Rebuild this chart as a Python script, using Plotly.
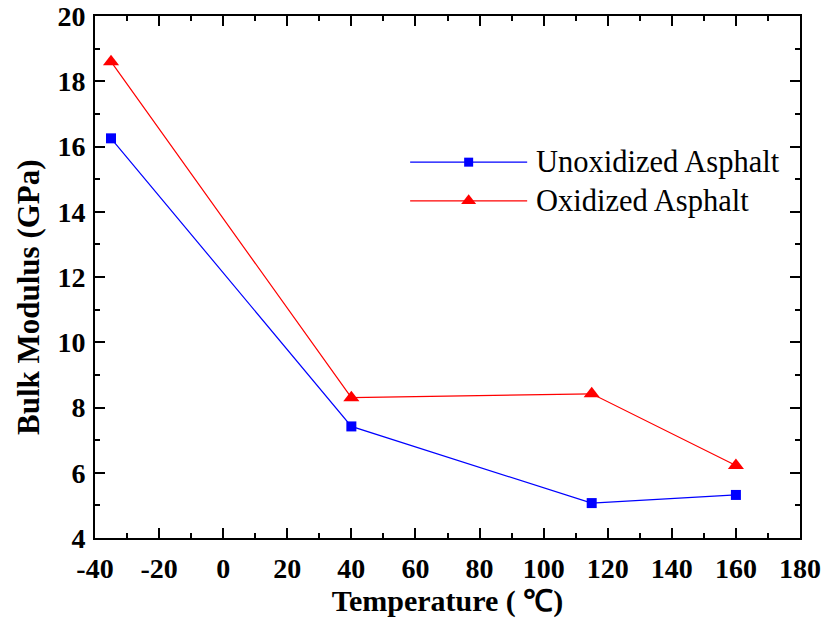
import plotly.graph_objects as go

# Temperatures (°C) and bulk modulus (GPa) for both asphalt states
temperature = [-35, 40, 115, 160]
unoxidized = [16.25, 7.42, 5.07, 5.32]
oxidized = [18.6, 8.3, 8.42, 6.22]

series_names = ["Unoxidized Asphalt", "Oxidized Asphalt"]
series_colors = ["#0000ff", "#ff0000"]
series_symbols = ["square", "triangle-up"]
series_sizes = [10, 14]

x_ticks = [-40, -20, 0, 20, 40, 60, 80, 100, 120, 140, 160, 180]
y_ticks = [4, 6, 8, 10, 12, 14, 16, 18, 20]

SERIF = "Liberation Serif, Times New Roman, serif"
tick_font = dict(family=SERIF, size=28, color="black")

# Plot-area geometry in pixels (used to place the rotated axis title)
W, H = 825, 619
ML, MR, MT, MB = 95, 25, 16, 81
PLOT_W, PLOT_H = W - ML - MR, H - MT - MB

fig = go.Figure()

for name, vals, col, sym, sz in zip(series_names, [unoxidized, oxidized],
                                    series_colors, series_symbols, series_sizes):
    fig.add_trace(go.Scatter(
        x=temperature, y=vals, mode="lines+markers", name=name,
        line=dict(color=col, width=1.2),
        marker=dict(symbol=sym, size=sz, color=col),
        showlegend=False,
    ))

# Legend drawn on an overlay axis (fractions of the plot area) so the line samples are long
legend_y = [0.72, 0.646]
for name, col, sym, sz, ly in zip(series_names, series_colors, series_symbols,
                                  series_sizes, legend_y):
    fig.add_trace(go.Scatter(
        x=[0.447, 0.613], y=[ly, ly], mode="lines",
        line=dict(color=col, width=1.2), xaxis="x2", yaxis="y2",
        showlegend=False, hoverinfo="skip",
    ))
    fig.add_trace(go.Scatter(
        x=[0.530], y=[ly], mode="markers",
        marker=dict(symbol=sym, size=sz - 1, color=col), xaxis="x2", yaxis="y2",
        showlegend=False, hoverinfo="skip",
    ))
    fig.add_annotation(
        x=0.622, y=ly, xref="x2", yref="y2", text=name, showarrow=False,
        xanchor="left", yanchor="middle",
        font=dict(family=SERIF, size=30.5, color="black"),
    )

# Vertical axis title, placed as an annotation so it can sit slightly below centre
fig.add_annotation(
    x=(28 - ML) / PLOT_W, y=1 - (297 - MT) / PLOT_H, xref="paper", yref="paper",
    text="<b>Bulk Modulus (GPa)</b>", textangle=-90, showarrow=False,
    xanchor="center", yanchor="middle",
    font=dict(family=SERIF, size=31, color="black"),
)

axis_common = dict(
    showline=True, linecolor="black", linewidth=2, mirror="ticks",
    ticks="inside", ticklen=10, tickwidth=2, tickcolor="black",
    showgrid=False, zeroline=False, tickfont=tick_font, automargin=False,
)

fig.update_layout(
    width=W, height=H,
    margin=dict(l=ML, r=MR, t=MT, b=MB),
    paper_bgcolor="white", plot_bgcolor="white",
    xaxis=dict(
        range=[-40, 180], tickvals=x_ticks,
        ticktext=[f"<b>{v}</b>" for v in x_ticks],
        ticklabelstandoff=4,
        minor=dict(ticks="inside", ticklen=5, tickwidth=2, tickcolor="black", dtick=10),
        title=dict(text="<b>Temperature ( ℃)</b>",
                   font=dict(family=SERIF, size=30, color="black"), standoff=0),
        **axis_common,
    ),
    yaxis=dict(
        range=[4, 20], tickvals=y_ticks,
        ticktext=[f"<b>{v}</b>" for v in y_ticks],
        ticklabelstandoff=2,
        minor=dict(ticks="inside", ticklen=5, tickwidth=2, tickcolor="black", dtick=1),
        **axis_common,
    ),
    xaxis2=dict(overlaying="x", range=[0, 1], visible=False, fixedrange=True),
    yaxis2=dict(overlaying="y", range=[0, 1], visible=False, fixedrange=True),
)

fig.write_html("out.html")
